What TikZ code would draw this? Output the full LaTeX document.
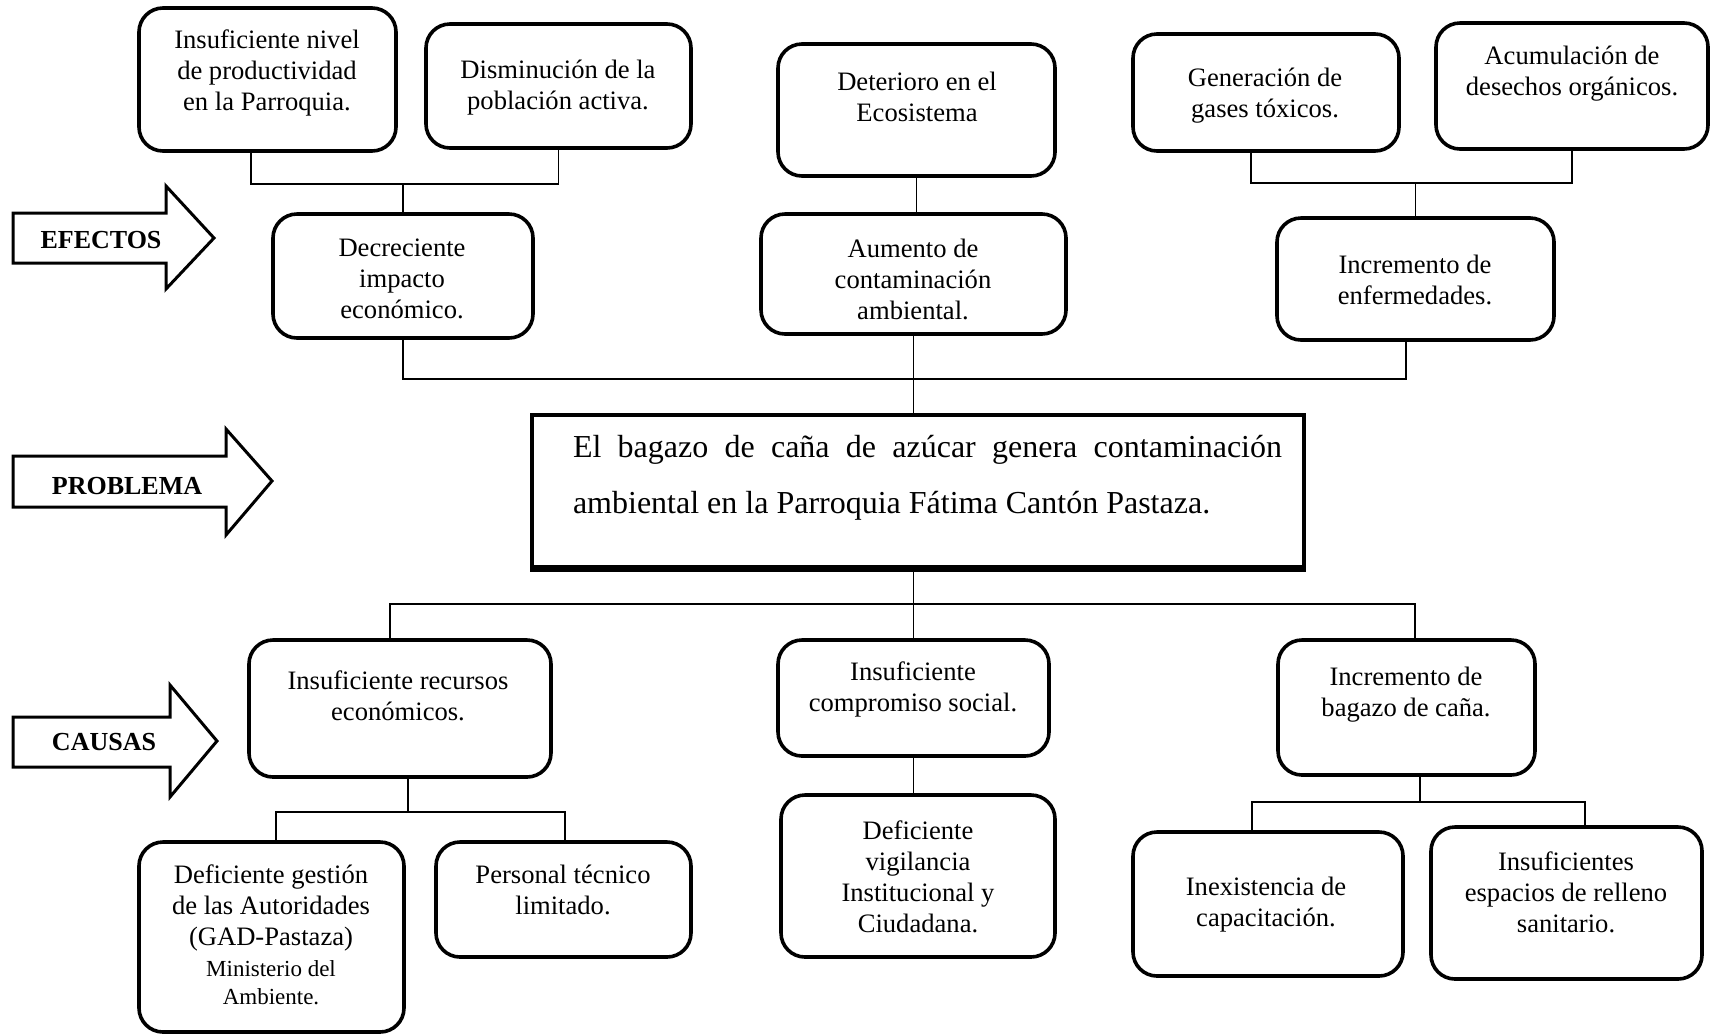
\documentclass[tikz,border=0pt]{standalone}
\usepackage{fontspec}
\setmainfont{Liberation Serif}
\newcommand\mybox[5]{\node[box, minimum width={(#4-#2)*0.5pt}, minimum height={(#5-#3)*0.5pt}] (#1) at ({(#2+#4)/2},{(#3+#5)/2}) {};}
\begin{document}
\begin{tikzpicture}[x=0.5pt,y=-0.5pt,
  box/.style={draw, line width=1.8pt, rounded corners=12pt, inner sep=0pt},
  txt/.style={align=center, inner sep=0pt, font=\fontsize{13.3}{15.5}\selectfont},
  smalltxt/.style={align=center, inner sep=0pt, font=\fontsize{11.5}{14}\selectfont},
  link/.style={line width=0.9pt},
  lbl/.style={font=\fontsize{13}{15}\selectfont\bfseries, inner sep=0pt},
  blockarrow/.style={draw, line width=1.5pt, line join=miter}]
\fill[white] (0,0) rectangle (1711,1035);
\useasboundingbox (0,0) rectangle (1711,1035);

% effect boxes
\mybox{A}{139}{8}{396}{151}
\mybox{B}{426}{24}{691}{148}
\mybox{C}{778}{44}{1055}{176}
\mybox{D}{1133}{34}{1399}{151}
\mybox{E}{1436}{23}{1708}{149}
\mybox{D1}{273}{214}{533}{338}
\mybox{AU}{761}{214}{1066}{334}
\mybox{IE}{1277}{218}{1554}{340}
% problem
\node[draw, line width=1.8pt, inner sep=0pt, minimum width={772*0.5pt}, minimum height={152*0.5pt}] (P) at (918,491) {};
\draw[line width=3pt] (P.south west) -- (P.south east);
% cause boxes
\mybox{IR}{249}{640}{551}{777}
\mybox{IC}{778}{640}{1049}{756}
\mybox{IB}{1278}{640}{1535}{775}
\mybox{DG}{139}{842}{404}{1032}
\mybox{PT}{436}{842}{691}{957}
\mybox{DV}{781}{795}{1055}{957}
\mybox{IN}{1133}{832}{1403}{976}
\mybox{IS}{1431}{827}{1702}{979}

% texts
\node[txt] (tA) at (267,73) {Insuficiente nivel\\de productividad\\en la Parroquia.};
\node[txt] (tB) at (558,88) {Disminución de la\\población activa.};
\node[txt] (tC) at (917,97) {Deterioro en el\\Ecosistema};
\node[txt] (tD) at (1265,96) {Generación de\\gases tóxicos.};
\node[txt] (tE) at (1572,74) {Acumulación de\\desechos orgánicos.};
\node[txt] (tD1) at (402,279) {Decreciente\\impacto\\económico.};
\node[txt] (tAU) at (913,279) {Aumento de\\contaminación\\ambiental.};
\node[txt] (tIE) at (1415,280) {Incremento de\\enfermedades.};
\node[inner sep=0pt, text width=354.5pt, align=justify, font=\fontsize{16}{28}\selectfont] (tP) at (927.5,478) {El bagazo de caña de azúcar genera contaminación\linebreak ambiental en la Parroquia Fátima Cantón Pastaza.};
\node[txt] (tIR) at (398,696) {Insuficiente recursos\\económicos.};
\node[txt] (tIC) at (913,689) {Insuficiente\\compromiso social.};
\node[txt] (tIB) at (1406,695) {Incremento de\\bagazo de caña.};
\node[txt] (tDG) at (271,908) {Deficiente gestión\\de las Autoridades\\(GAD-Pastaza)};
\node[smalltxt] (tDG2) at (271,983) {Ministerio del\\Ambiente.};
\node[txt] (tPT) at (563,890) {Personal técnico\\limitado.};
\node[txt] (tDV) at (918,877) {Deficiente\\vigilancia\\Institucional y\\Ciudadana.};
\node[txt] (tIN) at (1266,905) {Inexistencia de\\capacitación.};
\node[txt] (tIS) at (1566,892) {Insuficientes\\espacios de relleno\\sanitario.};

% block arrows
\draw[blockarrow] (13,213) -- (166,213) -- (166,186) -- (214,238) -- (166,289) -- (166,263) -- (13,263) -- cycle;
\node[lbl] (lE) at (101,240) {EFECTOS};
\draw[blockarrow] (13,456) -- (226,456) -- (226,429) -- (272,481) -- (226,535) -- (226,507) -- (13,507) -- cycle;
\node[lbl] (lP) at (127,486) {PROBLEMA};
\draw[blockarrow] (13,717) -- (170,717) -- (170,685) -- (217,741) -- (170,797) -- (170,767) -- (13,767) -- cycle;
\node[lbl] (lC) at (104,742) {CAUSAS};

% connectors (effects)
\coordinate (jA) at (251,184);
\draw[link] (jA |- A.south) -- (jA) -- (jA -| B.south) -- (B.south);
\draw[link] (D1.north) -- (D1.north |- jA);
\draw[link] (C.south) -- (C.south |- AU.north);
\coordinate (jD) at (1251,183);
\draw[link] (jD |- D.south) -- (jD) -- (jD -| E.south) -- (E.south);
\draw[link] (IE.north) -- (IE.north |- jD);
\coordinate (jM) at (1406,379);
\draw[link] (D1.south) -- (D1.south |- jM) -- (jM) -- (jM |- IE.south);
\draw[link] (AU.south) -- (AU.south |- P.north);
% connectors (causes)
\coordinate (jL) at (390,604);
\coordinate (jR) at (1415,604);
\draw[link] (jL |- IR.north) -- (jL) -- (jR) -- (jR |- IB.north);
\draw[link] (IC.north |- P.south) -- (IC.north);
\coordinate (jI) at (408,812);
\coordinate (jG) at (276,812);
\coordinate (jT) at (565,812);
\draw[link] (jI |- IR.south) -- (jI);
\draw[link] (jG |- DG.north) -- (jG) -- (jT) -- (jT |- PT.north);
\draw[link] (IC.south) -- (IC.south |- DV.north);
\coordinate (jB) at (1420,802);
\coordinate (jN) at (1252,802);
\coordinate (jS) at (1585,802);
\draw[link] (jB |- IB.south) -- (jB);
\draw[link] (jN |- IN.north) -- (jN) -- (jS) -- (jS |- IS.north);
\end{tikzpicture}
\end{document}
